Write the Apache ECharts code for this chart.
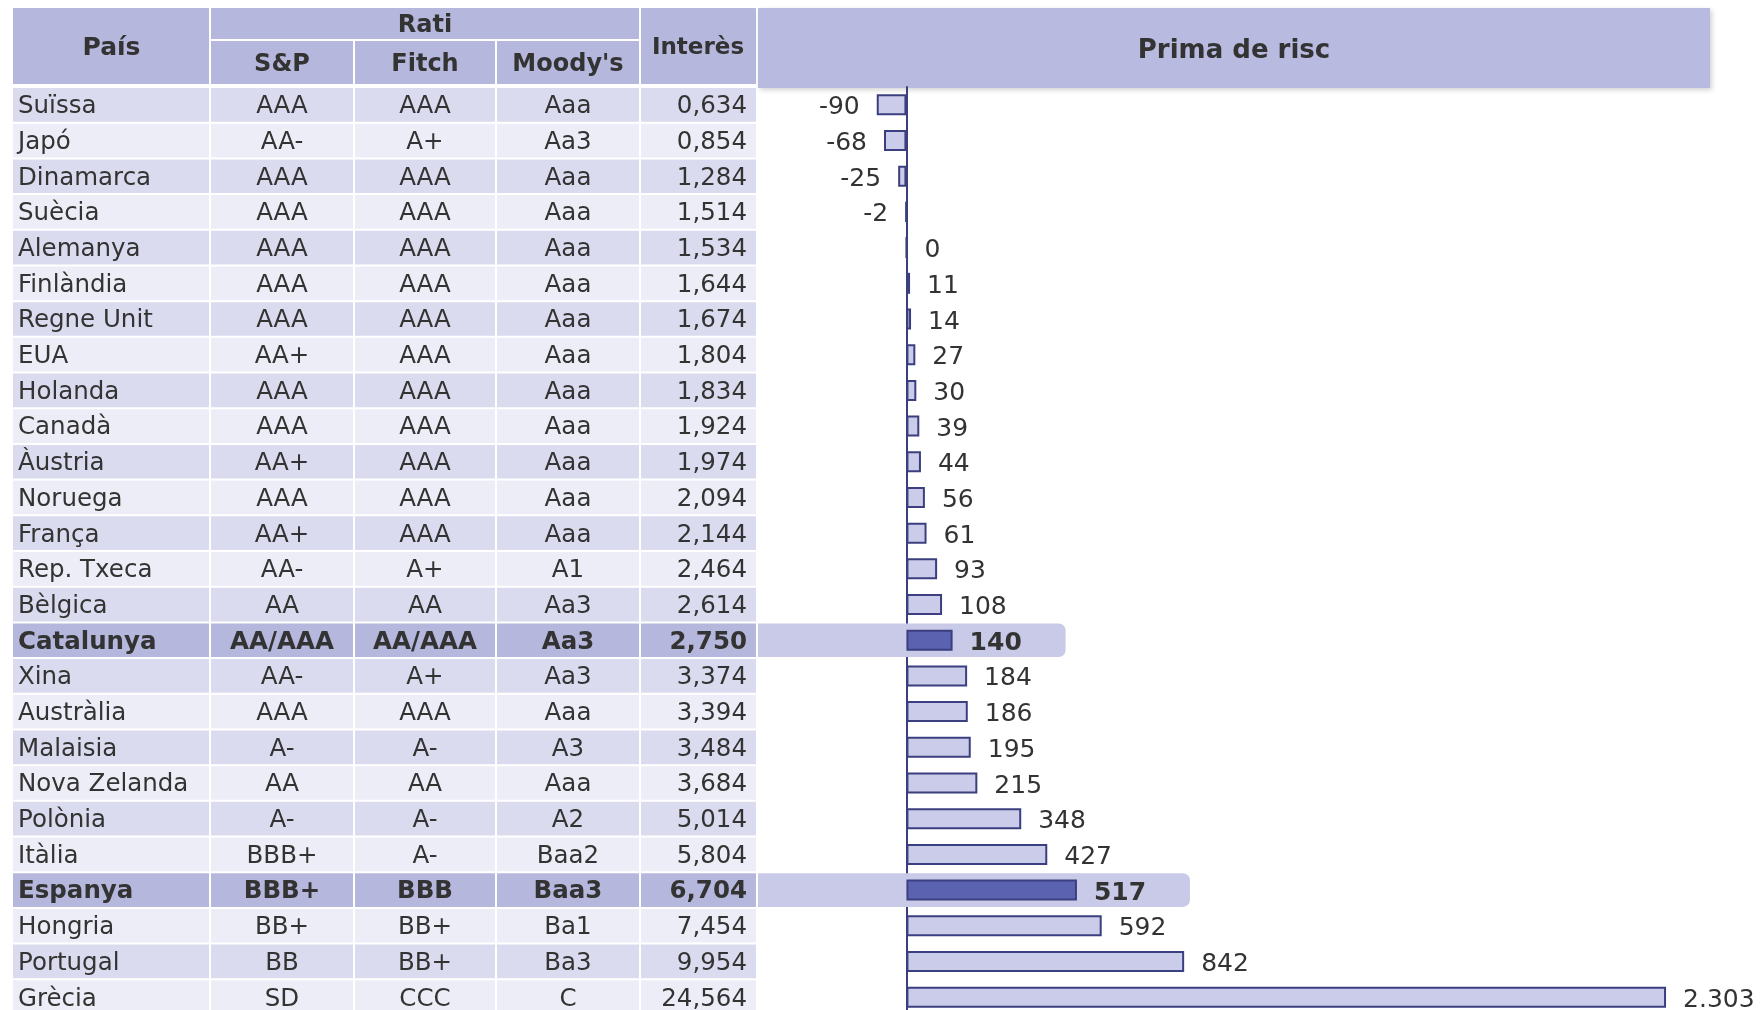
<!DOCTYPE html>
<html>
<head>
<meta charset="utf-8">
<style>
  html, body { margin: 0; padding: 0; background: #ffffff; }
  #chart { width: 1764px; height: 1010px; }
</style>
<script src="https://cdn.jsdelivr.net/npm/echarts@6/dist/echarts.min.js"></script>
</head>
<body>
<div id="chart"></div>
<script>
// ---------------- DATA ----------------
const countries = ['Suïssa','Japó','Dinamarca','Suècia','Alemanya','Finlàndia','Regne Unit','EUA','Holanda','Canadà','Àustria','Noruega','França','Rep. Txeca','Bèlgica','Catalunya','Xina','Austràlia','Malaisia','Nova Zelanda','Polònia','Itàlia','Espanya','Hongria','Portugal','Grècia'];
const ratingSP = ['AAA','AA-','AAA','AAA','AAA','AAA','AAA','AA+','AAA','AAA','AA+','AAA','AA+','AA-','AA','AA/AAA','AA-','AAA','A-','AA','A-','BBB+','BBB+','BB+','BB','SD'];
const ratingFitch = ['AAA','A+','AAA','AAA','AAA','AAA','AAA','AAA','AAA','AAA','AAA','AAA','AAA','A+','AA','AA/AAA','A+','AAA','A-','AA','A-','A-','BBB','BB+','BB+','CCC'];
const ratingMoodys = ['Aaa','Aa3','Aaa','Aaa','Aaa','Aaa','Aaa','Aaa','Aaa','Aaa','Aaa','Aaa','Aaa','A1','Aa3','Aa3','Aa3','Aaa','A3','Aaa','A2','Baa2','Baa3','Ba1','Ba3','C'];
const interest = [0.634,0.854,1.284,1.514,1.534,1.644,1.674,1.804,1.834,1.924,1.974,2.094,2.144,2.464,2.614,2.750,3.374,3.394,3.484,3.684,5.014,5.804,6.704,7.454,9.954,24.564];
const riskPremium = [-90,-68,-25,-2,0,11,14,27,30,39,44,56,61,93,108,140,184,186,195,215,348,427,517,592,842,2303];
const highlighted = ['Catalunya','Espanya'];
const headerTop = ['País','Rati','Interès'];
const headerSub = ['S&P','Fitch',"Moody's"];
const chartTitle = 'Prima de risc';

// ---------------- STYLE / LAYOUT ----------------
const FONT = '"DejaVu Sans", "Liberation Sans", Arial, sans-serif';
const TXT = '#333333';
const HEAD_BG = '#b5b7dc';
const ROW_DARK = '#dadbee';
const ROW_LIGHT = '#ededf7';
const HI_ROW = '#b5b7dc';
const HI_BAND = '#c9cae7';
const BAR_FILL = '#cbcce9';
const BAR_HI = '#5b63b1';
const BAR_BORDER = '#3b3f80';
const TABLE_LEFT = 13;
const colEdges = [0, 197, 341, 483, 627, 743]; // relative to table left
const ROWS_TOP = 87, ROWS_H = 928;
const BODY_FONT = 24.5;
const TEXT_DY = 2;

const fmtThousands = v => String(v).replace(/\B(?=(\d{3})+(?!\d))/g, '.');
const fmtInterest = v => v.toFixed(3).replace('.', ',');
const isHi = i => highlighted.indexOf(countries[i]) >= 0;

const chart = echarts.init(document.getElementById('chart'));

// header graphics
const E = colEdges.map(e => e + TABLE_LEFT);
const graphics = [];
function hRect(x1, y1, x2, y2, extra) {
  graphics.push(Object.assign({ type: 'rect', shape: { x: x1, y: y1, width: x2 - x1, height: y2 - y1 }, style: { fill: HEAD_BG } }, extra || {}));
}
function hText(x, y, t, size) {
  graphics.push({ type: 'text', x: x, y: y + TEXT_DY, style: { text: t, fill: TXT, font: 'bold ' + (size || 24) + 'px ' + FONT, textAlign: 'center', textVerticalAlign: 'middle' } });
}
hRect(E[0], 8, E[1] - 1, 84);
hRect(E[1] + 1, 8, E[4] - 1, 39);
hRect(E[1] + 1, 41, E[2] - 1, 84);
hRect(E[2] + 1, 41, E[3] - 1, 84);
hRect(E[3] + 1, 41, E[4] - 1, 84);
hRect(E[4] + 1, 8, E[5], 84);
hRect(758, 8, 1710, 88, { style: { fill: '#b8badf', shadowBlur: 5, shadowColor: 'rgba(0,0,0,0.18)', shadowOffsetX: 2, shadowOffsetY: 2 } });
hText((E[0] + E[1]) / 2, 46, headerTop[0], 25);
hText((E[1] + E[4]) / 2, 24, headerTop[1]);
hText((E[1] + E[2]) / 2, 63, headerSub[0]);
hText((E[2] + E[3]) / 2, 63, headerSub[1]);
hText((E[3] + E[4]) / 2, 63, headerSub[2]);
hText((E[4] + E[5]) / 2, 46, headerTop[2], 23);
hText(1234, 49, chartTitle, 26);

const tableData = countries.map((c, i) => [0, i]);

function renderRow(params, api) {
  const idx = api.value(1);
  const c = api.coord([0, idx]);
  const y = c[1];
  const h = api.size([0, 1])[1];
  const x0 = c[0];
  const hi = isHi(idx);
  const bg = hi ? HI_ROW : (idx % 2 === 0 ? ROW_DARK : ROW_LIGHT);
  const font = (hi ? 'bold ' : '') + BODY_FONT + 'px ' + FONT;
  const children = [];
  for (let k = 0; k < colEdges.length - 1; k++) {
    const xl = x0 + colEdges[k] + (k === 0 ? 0 : 1);
    const xr = x0 + colEdges[k + 1] - (k === colEdges.length - 2 ? 0 : 1);
    children.push({ type: 'rect', shape: { x: xl, y: y - h / 2 + 1, width: xr - xl, height: h - 2 }, style: { fill: bg } });
  }
  const texts = [
    { t: countries[idx], x: x0 + 5, a: 'left' },
    { t: ratingSP[idx], x: x0 + (colEdges[1] + colEdges[2]) / 2, a: 'center' },
    { t: ratingFitch[idx], x: x0 + (colEdges[2] + colEdges[3]) / 2, a: 'center' },
    { t: ratingMoodys[idx], x: x0 + (colEdges[3] + colEdges[4]) / 2, a: 'center' },
    { t: fmtInterest(interest[idx]), x: x0 + colEdges[5] - 9, a: 'right' }
  ];
  texts.forEach(o => children.push({ type: 'text', x: o.x, y: y + TEXT_DY, style: { text: o.t, fill: TXT, font: font, textAlign: o.a, textVerticalAlign: 'middle' } }));
  return { type: 'group', children: children };
}

const bandData = countries.map((c, i) => isHi(i) ? [riskPremium[i], i] : null).filter(d => d);
function renderBand(params, api) {
  const v = api.value(0), idx = api.value(1);
  const left = api.coord([-450, idx]);
  const end = api.coord([Math.max(v, 0), idx])[0] + 113;
  const h = api.size([0, 1])[1];
  return { type: 'rect', shape: { x: left[0], y: left[1] - h / 2 + 1, width: end - left[0], height: h - 2, r: [0, 7, 7, 0] }, style: { fill: HI_BAND } };
}

const barData = riskPremium.map((v, i) => {
  const hi = isHi(i);
  return {
    value: v,
    itemStyle: { color: hi ? BAR_HI : BAR_FILL, borderColor: BAR_BORDER, borderWidth: 2 },
    label: { position: v < 0 ? 'left' : 'right', fontWeight: hi ? 'bold' : 'normal' }
  };
});

chart.setOption({
  animation: false,
  backgroundColor: '#ffffff',
  textStyle: { fontFamily: FONT },
  graphic: graphics,
  grid: [
    { left: TABLE_LEFT, width: colEdges[5], top: ROWS_TOP, height: ROWS_H, outerBoundsMode: 'none', containLabel: false },
    { left: 758, width: 1006, top: ROWS_TOP, height: ROWS_H, outerBoundsMode: 'none', containLabel: false }
  ],
  xAxis: [
    { gridIndex: 0, type: 'value', min: 0, max: 1, show: false },
    { gridIndex: 1, type: 'value', min: -450, max: 2600, show: false }
  ],
  yAxis: [
    { gridIndex: 0, type: 'category', data: countries, inverse: true, show: false },
    { gridIndex: 1, type: 'category', data: countries, inverse: true,
      axisLine: { show: true, onZero: true, lineStyle: { color: '#3b3f7c', width: 2 } },
      axisTick: { show: false }, axisLabel: { show: false }, splitLine: { show: false } }
  ],
  series: [
    { type: 'custom', xAxisIndex: 0, yAxisIndex: 0, data: tableData, renderItem: renderRow, silent: true },
    { type: 'custom', xAxisIndex: 1, yAxisIndex: 1, data: bandData, renderItem: renderBand, silent: true, z: 1 },
    { type: 'bar', xAxisIndex: 1, yAxisIndex: 1, data: barData, barWidth: 21, z: 3,
      label: { show: true, distance: 17, offset: [0, 3], color: TXT, fontSize: 25, fontFamily: FONT,
        formatter: p => fmtThousands(p.value) } }
  ]
});
</script>
</body>
</html>
